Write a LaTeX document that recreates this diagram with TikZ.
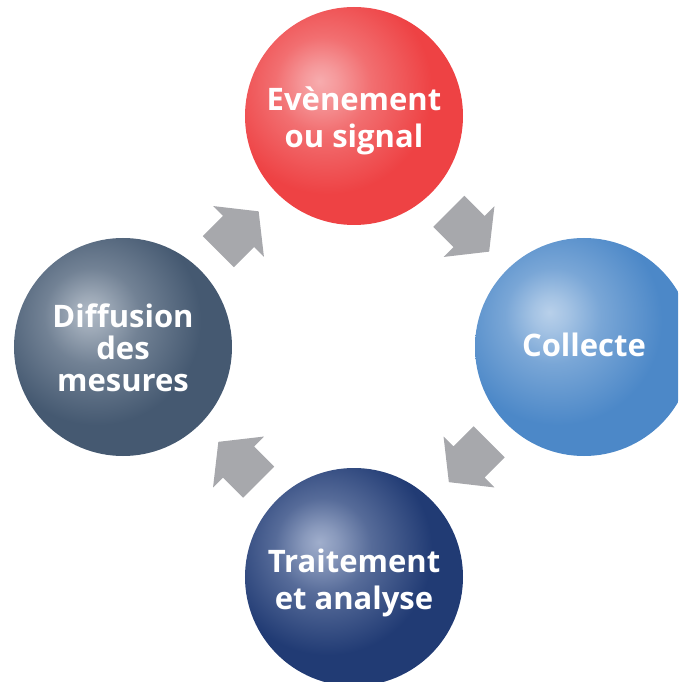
\documentclass[tikz,border=0pt]{standalone}
\usepackage{fontspec}
\setsansfont{Open Sans}
\usetikzlibrary{calc}

\definecolor{spotlight}{RGB}{255,255,255}
\definecolor{spotbase}{RGB}{128,128,128}
\definecolor{redlight}{RGB}{247,172,174}
\definecolor{redbase}{RGB}{238,66,68}
\definecolor{bluelight}{RGB}{184,208,234}
\definecolor{bluebase}{RGB}{76,136,200}
\definecolor{navylight}{RGB}{160,174,204}
\definecolor{navybase}{RGB}{33,59,116}
\definecolor{slatelight}{RGB}{176,186,198}
\definecolor{slatebase}{RGB}{69,89,113}
\definecolor{arrowgray}{RGB}{167,168,172}

% highlight sits up and to the left of the centre
\pgfdeclareradialshading[spotlight,spotbase]{spot}{\pgfpoint{-8bp}{8bp}}{%
  color(0bp)=(spotlight); color(4bp)=(spotlight!82!spotbase);
  color(11bp)=(spotlight!42!spotbase); color(24bp)=(spotbase);
  color(100bp)=(spotbase)}

\tikzset{
  sphere/.style 2 args={circle, minimum size=218pt, inner sep=0pt,
    /utils/exec={\colorlet{spotlight}{#1}\colorlet{spotbase}{#2}},
    shading=spot},
  steptext/.style={text=white, align=center, inner sep=0pt,
    font=\sffamily\bfseries\fontsize{31}{37.5}\selectfont},
  flow/.style={fill=arrowgray},
}

\begin{document}
\begin{tikzpicture}[x=1pt,y=1pt]
  \useasboundingbox (-353,-334) rectangle (325,348);
  \clip (-353,-334) rectangle (325,348);

  % the four steps
  \node[sphere={redlight}{redbase}] (evenement) at (1,232) {};
  \node[sphere={bluelight}{bluebase}] (collecte) at (231,1) {};
  \node[sphere={navylight}{navybase}] (traitement) at (1,-229) {};
  \node[sphere={slatelight}{slatebase}] (diffusion) at (-230,1) {};

  \node[steptext] (evenement-t) at ([yshift=-5pt]evenement) {Evènement\\ou signal};
  \node[steptext] (collecte-t) at ([yshift=2pt]collecte) {Collecte};
  \node[steptext] (traitement-t) at ([yshift=-6pt]traitement) {Traitement\\et analyse};
  \node[steptext, font=\sffamily\bfseries\fontsize{31}{32}\selectfont]
    (diffusion-t) at ([yshift=-1pt]diffusion) {Diffusion\\des\\mesures};

  % block arrows halfway between the steps
  \coordinate (f1) at ($(diffusion)!0.5!(evenement)$);
  \coordinate (f2) at ($(evenement)!0.5!(collecte)$);
  \coordinate (f3) at ($(collecte)!0.5!(traitement)$);
  \coordinate (f4) at ($(traitement)!0.5!(diffusion)$);
  \fill[flow, shift={(f1)}, rotate=45]
    (-28.5,-22) -- (0,-22) -- (0,-36) -- (28.5,0) -- (0,36) -- (0,22) -- (-28.5,22) -- cycle;
  \fill[flow, shift={(f2)}, rotate=-45]
    (-28.5,-22) -- (0,-22) -- (0,-36) -- (28.5,0) -- (0,36) -- (0,22) -- (-28.5,22) -- cycle;
  \fill[flow, shift={(f3)}, rotate=-135]
    (-28.5,-22) -- (0,-22) -- (0,-36) -- (28.5,0) -- (0,36) -- (0,22) -- (-28.5,22) -- cycle;
  \fill[flow, shift={(f4)}, rotate=135]
    (-28.5,-22) -- (0,-22) -- (0,-36) -- (28.5,0) -- (0,36) -- (0,22) -- (-28.5,22) -- cycle;
\end{tikzpicture}
\end{document}
